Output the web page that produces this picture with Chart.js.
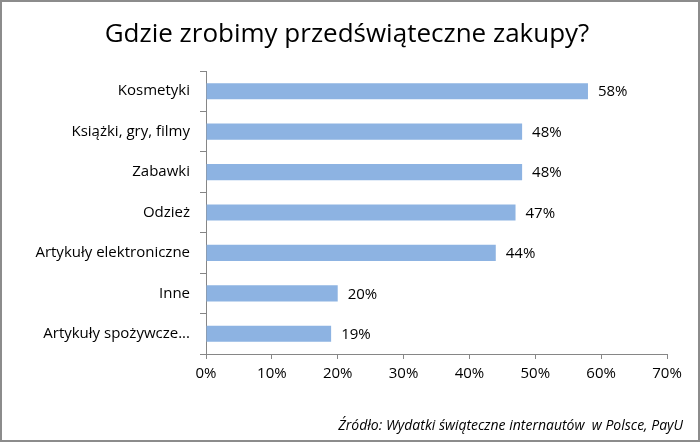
<!DOCTYPE html>
<html>
<head>
<meta charset="utf-8">
<script src="https://cdn.jsdelivr.net/npm/chart.js@4.4.0/dist/chart.umd.min.js"></script>
<style>
  html, body { margin: 0; padding: 0; background: #fff; }
  #wrap { width: 700px; height: 442px; position: relative; }
</style>
</head>
<body>
<div id="wrap"><canvas id="shopping-chart" width="700" height="442"></canvas></div>
<script>
/*-----------------------------
Chart data
------------------------------*/
const categories = [
    'Kosmetyki',
    'Książki, gry, filmy',
    'Zabawki',
    'Odzież',
    'Artykuły elektroniczne',
    'Inne',
    'Artykuły spożywcze...'
];
const shares = [58, 48, 48, 47, 44, 20, 19];
const xTicks = [0, 10, 20, 30, 40, 50, 60, 70];

const titleText = 'Gdzie zrobimy przedświąteczne zakupy?';
const sourceText = 'Źródło: Wydatki świąteczne internautów  w Polsce, PayU';

const fontName = "'Open Sans', sans-serif";
const axisGray = '#868686';

//----------------------------------------
//Plugin: title, source, value labels, frame
//----------------------------------------
const decorations = {
    id: 'decorations',
    afterDraw(chart) {
        const c = chart.ctx;
        c.save();

        // title
        c.fillStyle = '#000';
        c.font = '26px ' + fontName;
        c.textAlign = 'center';
        c.textBaseline = 'middle';
        c.fillText(titleText, 347, 35);

        // value labels next to bars
        const meta = chart.getDatasetMeta(0);
        c.font = '15px ' + fontName;
        c.textAlign = 'left';
        meta.data.forEach((bar, i) => {
            c.fillText(shares[i] + '%', bar.x + 10, bar.y + 1);
        });

        // source
        c.font = 'italic 14px ' + fontName;
        c.textAlign = 'right';
        c.fillText(sourceText, 683, 426);

        // frame
        c.strokeStyle = '#8c8c8c';
        c.lineWidth = 2;
        c.strokeRect(1, 1, chart.width - 2, chart.height - 2);
        c.restore();
    }
};

//------------------------
//Bar chart
//------------------------
const ctx = document.getElementById('shopping-chart');

new Chart(ctx, {
    type: 'bar',
    data: {
        labels: categories,
        datasets: [{
            data: shares,
            backgroundColor: '#8db3e2',
            borderWidth: 0,
            barPercentage: 0.4,
            categoryPercentage: 1
        }]
    },
    options: {
        indexAxis: 'y',
        responsive: false,
        animation: false,
        devicePixelRatio: 1,
        layout: {
            padding: { top: 71, right: 33, bottom: 58, left: 0 }
        },
        scales: {
            x: {
                min: 0,
                max: 70,
                afterBuildTicks: (scale) => {
                    scale.ticks = xTicks.map(v => ({ value: v }));
                },
                afterFit: (scale) => { scale.height = 30; },
                border: { color: axisGray, width: 1 },
                grid: {
                    drawOnChartArea: false,
                    tickLength: 5,
                    color: axisGray
                },
                ticks: {
                    color: '#000',
                    padding: 6,
                    font: { family: fontName, size: 15 },
                    callback: (v) => v + '%'
                }
            },
            y: {
                afterFit: (scale) => { scale.width = 206; },
                border: { color: axisGray, width: 1 },
                grid: {
                    drawOnChartArea: false,
                    tickLength: 6,
                    color: axisGray,
                    offset: true
                },
                ticks: {
                    color: '#000',
                    padding: 10,
                    font: { family: fontName, size: 15 }
                }
            }
        },
        plugins: {
            legend: { display: false },
            tooltip: { enabled: false }
        }
    },
    plugins: [decorations]
});
</script>
</body>
</html>
